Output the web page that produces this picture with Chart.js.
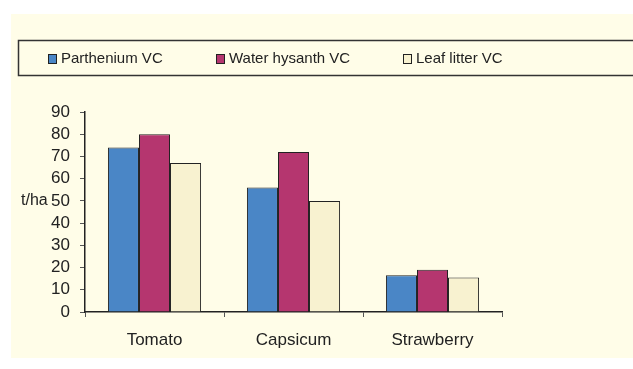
<!DOCTYPE html>
<html>
<head>
<meta charset="utf-8">
<script src="https://cdn.jsdelivr.net/npm/chart.js@4"></script>
<style>
  html, body { margin: 0; padding: 0; background: #fff; }
  #wrap { position: relative; width: 633px; height: 369px; }
</style>
</head>
<body>
<div id="wrap"><canvas id="grafico"></canvas></div>
<script>
// Rendimento por cultura (t/ha)
const culturas = ['Tomato', 'Capsicum', 'Strawberry'];
const series = ['Parthenium VC', 'Water hysanth VC', 'Leaf litter VC'];
const parthenium = [74, 56, 16.5];
const waterHysanth = [80, 72, 19];
const leafLitter = [67, 50, 15.5];
const cores = ['#4a86c6', '#b5366f', '#f8f2d0'];
const tituloY = 't/ha';

const fonte = 'Liberation Sans, Arial, sans-serif';
const corTexto = '#222';

// fundo creme + caixa da legenda + rótulo do eixo Y
const moldura = {
  id: 'moldura',
  beforeDraw(chart) {
    const ctx = chart.ctx;
    ctx.save();
    ctx.fillStyle = '#fff';
    ctx.fillRect(0, 0, chart.width, chart.height);
    ctx.fillStyle = '#fffde8';
    ctx.fillRect(11, 14, chart.width - 11, 344);
    ctx.restore();
  },
  afterDraw(chart) {
    const ctx = chart.ctx;
    ctx.save();
    // caixa da legenda
    ctx.fillStyle = '#fffde8';
    ctx.fillRect(18, 40, chart.width, 36);
    ctx.strokeStyle = '#333';
    ctx.lineWidth = 1.5;
    ctx.strokeRect(18.5, 40.5, chart.width, 35);

    const posX = [48, 216, 403];
    ctx.font = '15px ' + fonte;
    ctx.textBaseline = 'middle';
    ctx.textAlign = 'left';
    chart.data.datasets.forEach((ds, i) => {
      ctx.fillStyle = ds.backgroundColor;
      ctx.fillRect(posX[i], 54, 9, 10);
      ctx.strokeStyle = '#222';
      ctx.lineWidth = 1;
      ctx.strokeRect(posX[i] + 0.5, 54.5, 8, 9);
      ctx.fillStyle = corTexto;
      ctx.fillText(ds.label, posX[i] + 13, 59);
    });

    // título do eixo Y, horizontal
    const y = chart.scales.y.getPixelForValue(50);
    ctx.font = '16px ' + fonte;
    ctx.fillStyle = corTexto;
    ctx.fillText(tituloY, 21, y);
    ctx.restore();
  }
};

new Chart(document.getElementById('grafico'), {
  type: 'bar',
  data: {
    labels: culturas,
    datasets: [
      { label: series[0], data: parthenium, backgroundColor: cores[0] },
      { label: series[1], data: waterHysanth, backgroundColor: cores[1] },
      { label: series[2], data: leafLitter, backgroundColor: cores[2] }
    ].map(ds => Object.assign(ds, { borderColor: '#222', borderWidth: 1 }))
  },
  options: {
    responsive: true,
    maintainAspectRatio: false,
    animation: false,
    categoryPercentage: 0.67,
    barPercentage: 1.0,
    layout: { padding: { top: 112, right: 131, left: 0, bottom: 0 } },
    plugins: {
      legend: { display: false },
      title: { display: false },
      tooltip: { enabled: false }
    },
    scales: {
      x: {
        afterFit(scale) { scale.height = 57; },
        grid: { display: true, drawOnChartArea: false, offset: true, tickLength: 5, color: '#555' },
        border: { color: '#222', width: 1.5 },
        ticks: { color: corTexto, font: { family: fonte, size: 17 }, padding: 13 }
      },
      y: {
        min: 0,
        max: 90,
        afterFit(scale) { scale.width = 85; },
        grid: { display: true, drawOnChartArea: false, tickLength: 5, color: '#555' },
        border: { color: '#222', width: 1.5 },
        ticks: { stepSize: 10, autoSkip: false, color: corTexto, font: { family: fonte, size: 17 }, padding: 10 }
      }
    }
  },
  plugins: [moldura]
});
</script>
</body>
</html>
